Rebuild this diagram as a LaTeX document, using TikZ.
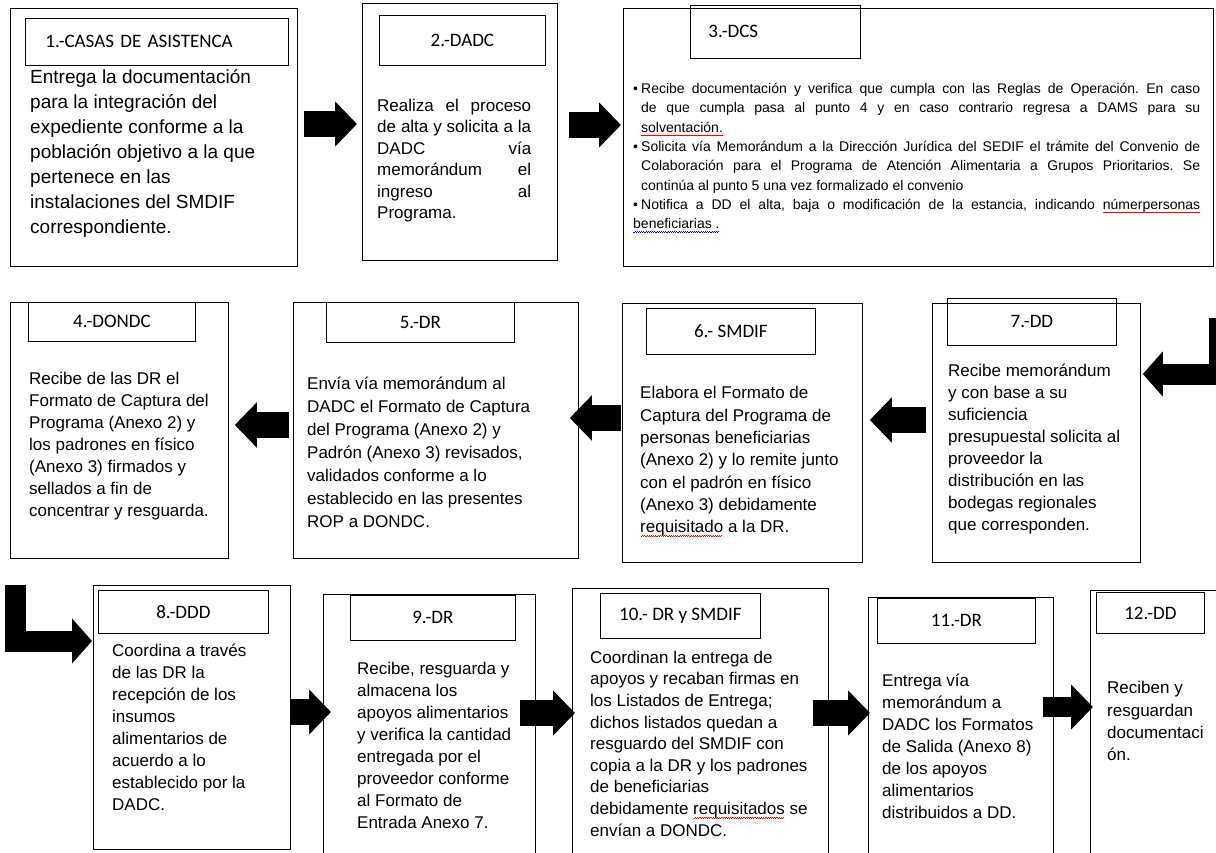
\documentclass[tikz,border=0pt]{standalone}
\usepackage{fontspec}
\setmainfont{Liberation Sans}
\newfontfamily\headfont{Carlito}
\usepackage{xcolor}
\usetikzlibrary{arrows.meta}
\frenchspacing

\newcommand\spellwave[2]{\setbox0\hbox{#2}\rlap{\hbox to\wd0{\color{#1}\cleaders\hbox{\rule[-3.6pt]{1.1pt}{.6pt}\rule[-3pt]{1.1pt}{.6pt}}\hfill}}\box0\relax}
\newcommand\bpt{\par\hangindent=8pt\hangafter=1\noindent\makebox[8pt][l]{\textbullet}}

\begin{document}
\begin{tikzpicture}[
            x=1pt,y=-1pt,
            stepbox/.style={draw,line width=.8pt,anchor=north west,inner sep=0pt},
            head/.style={stepbox,font=\headfont\fontsize{19}{22}\selectfont},
            txt/.style={anchor=north west,inner sep=0pt,align=left,font=\fontsize{17}{22}\selectfont},
            flow/.style={line width=26pt,-{Triangle[length=22pt,width=44pt]}},
            elbow/.style={line width=21pt,line join=miter,-{Triangle[length=20pt,width=44pt]}}
          ]
          \clip (0,0) rectangle (1216,852);
          \fill[white] (0,0) rectangle (1216,852);

          %row 1
          \node[stepbox,minimum width=287pt,minimum height=258pt] (b1) at (10,8) {};
          \node[head,minimum width=263pt,minimum height=47pt,text width=223pt,inner xsep=20pt,align=left] (h1) at (25,18) {1.-CASAS DE ASISTENCA};
          \node[txt,font=\fontsize{19}{25}\selectfont] (t1) at (30,65.5) {\strut Entrega la documentación\\para la integración del\\expediente conforme a la\\población objetivo a la que\\pertenece en las\\instalaciones del SMDIF\\correspondiente.};

          \node[stepbox,minimum width=195pt,minimum height=257pt] (b2) at (362,3) {};
          \node[head,minimum width=166pt,minimum height=50pt] (h2) at (379,15) {2.-DADC};
          \node[txt,text width=154pt,align=justify,font=\fontsize{17}{21.5}\selectfont] (t2) at (377,96) {\strut Realiza el proceso\linebreak de alta y solicita a la\linebreak DADC vía\linebreak memorándum el\linebreak ingreso al\linebreak Programa.};

          \node[stepbox,minimum width=590pt,minimum height=258pt] (b3) at (623,8) {};
          \node[head,minimum width=170pt,minimum height=53pt,text width=134pt,inner xsep=18pt,align=left] (h3) at (690,5) {3.-DCS};
          \node[txt,text width=567pt,align=justify,font=\fontsize{14}{19.3}\selectfont] (t3) at (633,74) {\bpt\strut Recibe documentación y verifica que cumpla con las Reglas de Operación. En caso\linebreak de que cumpla pasa al punto 4 y en caso contrario regresa a DAMS para su\linebreak \spellwave{red}{solventación.}
            \bpt Solicita vía Memorándum a la Dirección Jurídica del SEDIF el trámite del Convenio de\linebreak Colaboración para el Programa de Atención Alimentaria a Grupos Prioritarios. Se\linebreak continúa al punto 5 una vez formalizado el convenio
            \bpt Notifica a DD el alta, baja o modificación de la estancia, indicando \spellwave{red}{númerpersonas}\linebreak \spellwave{blue}{beneficiarias .}};

          %row 2
          \node[stepbox,minimum width=218pt,minimum height=256pt] (b4) at (10,302) {};
          \node[head,minimum width=167pt,minimum height=39pt] (h4) at (28,302) {4.-DONDC};
          \node[txt] (t4) at (29,368.6) {\strut Recibe de las DR el\\Formato de Captura del\\Programa (Anexo 2) y\\los padrones en físico\\(Anexo 3) firmados y\\sellados a fin de\\concentrar y resguarda.};

          \node[stepbox,minimum width=285pt,minimum height=256pt] (b5) at (293,302) {};
          \node[head,minimum width=188pt,minimum height=40pt] (h5) at (326,302) {5.-DR};
          \node[txt,font=\fontsize{17}{23}\selectfont] (t5) at (307,373) {\strut Envía vía memorándum al\\DADC el Formato de Captura\\del Programa (Anexo 2) y\\Padrón (Anexo 3) revisados,\\validados conforme a lo\\establecido en las presentes\\ROP a DONDC.};

          \node[stepbox,minimum width=240pt,minimum height=259pt] (b6) at (622,303) {};
          \node[head,minimum width=169pt,minimum height=46pt] (h6) at (646,308) {6.- SMDIF};
          \node[txt,font=\fontsize{17}{22.3}\selectfont] (t6) at (640,383) {\strut Elabora el Formato de\\Captura del Programa de\\personas beneficiarias\\(Anexo 2) y lo remite junto\\con el padrón en físico\\(Anexo 3) debidamente\\\spellwave{red}{requisitado} a la DR.};

          \node[stepbox,minimum width=208pt,minimum height=259pt] (b7) at (932,303) {};
          \node[head,minimum width=169pt,minimum height=47pt] (h7) at (947,298) {7.-DD};
          \node[txt] (t7) at (948,361) {\strut Recibe memorándum\\y con base a su\\suficiencia\\presupuestal solicita al\\proveedor la\\distribución en las\\bodegas regionales\\que corresponden.};

          %row 3
          \node[stepbox,minimum width=197pt,minimum height=264pt] (b8) at (93,585) {};
          \node[head,minimum width=170pt,minimum height=43pt] (h8) at (98,590) {8.-DDD};
          \node[txt] (t8) at (112,641) {\strut Coordina a través\\de las DR la\\recepción de los\\insumos\\alimentarios de\\acuerdo a lo\\establecido por la\\DADC.};

          \node[stepbox,minimum width=212pt,minimum height=262pt] (b9) at (323,594) {};
          \node[head,minimum width=165pt,minimum height=45pt] (h9) at (350,595) {9.-DR};
          \node[txt] (t9) at (357,659) {\strut Recibe, resguarda y\\almacena los\\apoyos alimentarios\\y verifica la cantidad\\entregada por el\\proveedor conforme\\al Formato de\\Entrada Anexo 7.};

          \node[stepbox,minimum width=256pt,minimum height=268pt] (b10) at (572,588) {};
          \node[head,minimum width=160pt,minimum height=45pt] (h10) at (600,593) {10.- DR y SMDIF};
          \node[txt,font=\fontsize{17}{21.6}\selectfont] (t10) at (590,648) {\strut Coordinan la entrega de\\apoyos y recaban firmas en\\los Listados de Entrega;\\dichos listados quedan a\\resguardo del SMDIF con\\copia a la DR y los padrones\\de beneficiarias\\debidamente \spellwave{red}{requisitados} se\\envían a DONDC.};

          \node[stepbox,minimum width=185pt,minimum height=259pt] (b11) at (868,597) {};
          \node[head,minimum width=158pt,minimum height=45pt] (h11) at (877,598) {11.-DR};
          \node[txt] (t11) at (882,671) {\strut Entrega vía\\memorándum a\\DADC los Formatos\\de Salida (Anexo 8)\\de los apoyos\\alimentarios\\distribuidos a DD.};

          \node[stepbox,minimum width=140pt,minimum height=266pt] (b12) at (1090,590) {};
          \node[head,minimum width=108pt,minimum height=41pt] (h12) at (1096,592) {12.-DD};
          \node[txt,font=\fontsize{17}{22.3}\selectfont] (t12) at (1107,678) {\strut Reciben y\\resguardan\\documentaci\\ón.};

          %arrows
          \draw[flow,shorten <=6pt,shorten >=5pt] (b1.east |- 0,124) -- (b2.west |- 0,124);
          \draw[flow,shorten <=11pt,shorten >=2pt] (b2.east |- 0,125) -- (b3.west |- 0,125);
          \coordinate (e7) at (1219,318);
          \draw[elbow,shorten >=2pt] (e7) |- (b7.east |- 0,374);
          \draw[flow,shorten <=6pt,shorten >=7pt] (b7.west |- 0,420) -- (b6.east |- 0,420);
          \draw[flow,shorten <=1pt,shorten >=-9pt] (b6.west |- 0,418) -- (b5.east |- 0,418);
          \draw[flow,shorten <=4pt,shorten >=6pt] (b5.west |- 0,425) -- (b4.east |- 0,425);
          \coordinate (e8) at (15,585);
          \draw[elbow,shorten >=1pt] (e8) |- (b8.west |- 0,641);
          \draw[flow,shorten >=-8pt] (b8.east |- 0,712) -- (b9.west |- 0,712);
          \draw[flow,shorten <=-16pt,shorten >=-3pt] (b9.east |- 0,713) -- (b10.west |- 0,713);
          \draw[flow,shorten <=-16pt,shorten >=-2pt] (b10.east |- 0,713) -- (b11.west |- 0,713);
          \draw[flow,line width=20pt,shorten <=-11pt,shorten >=-3pt] (b11.east |- 0,707) -- (b12.west |- 0,707);
      \end{tikzpicture}
\end{document}
